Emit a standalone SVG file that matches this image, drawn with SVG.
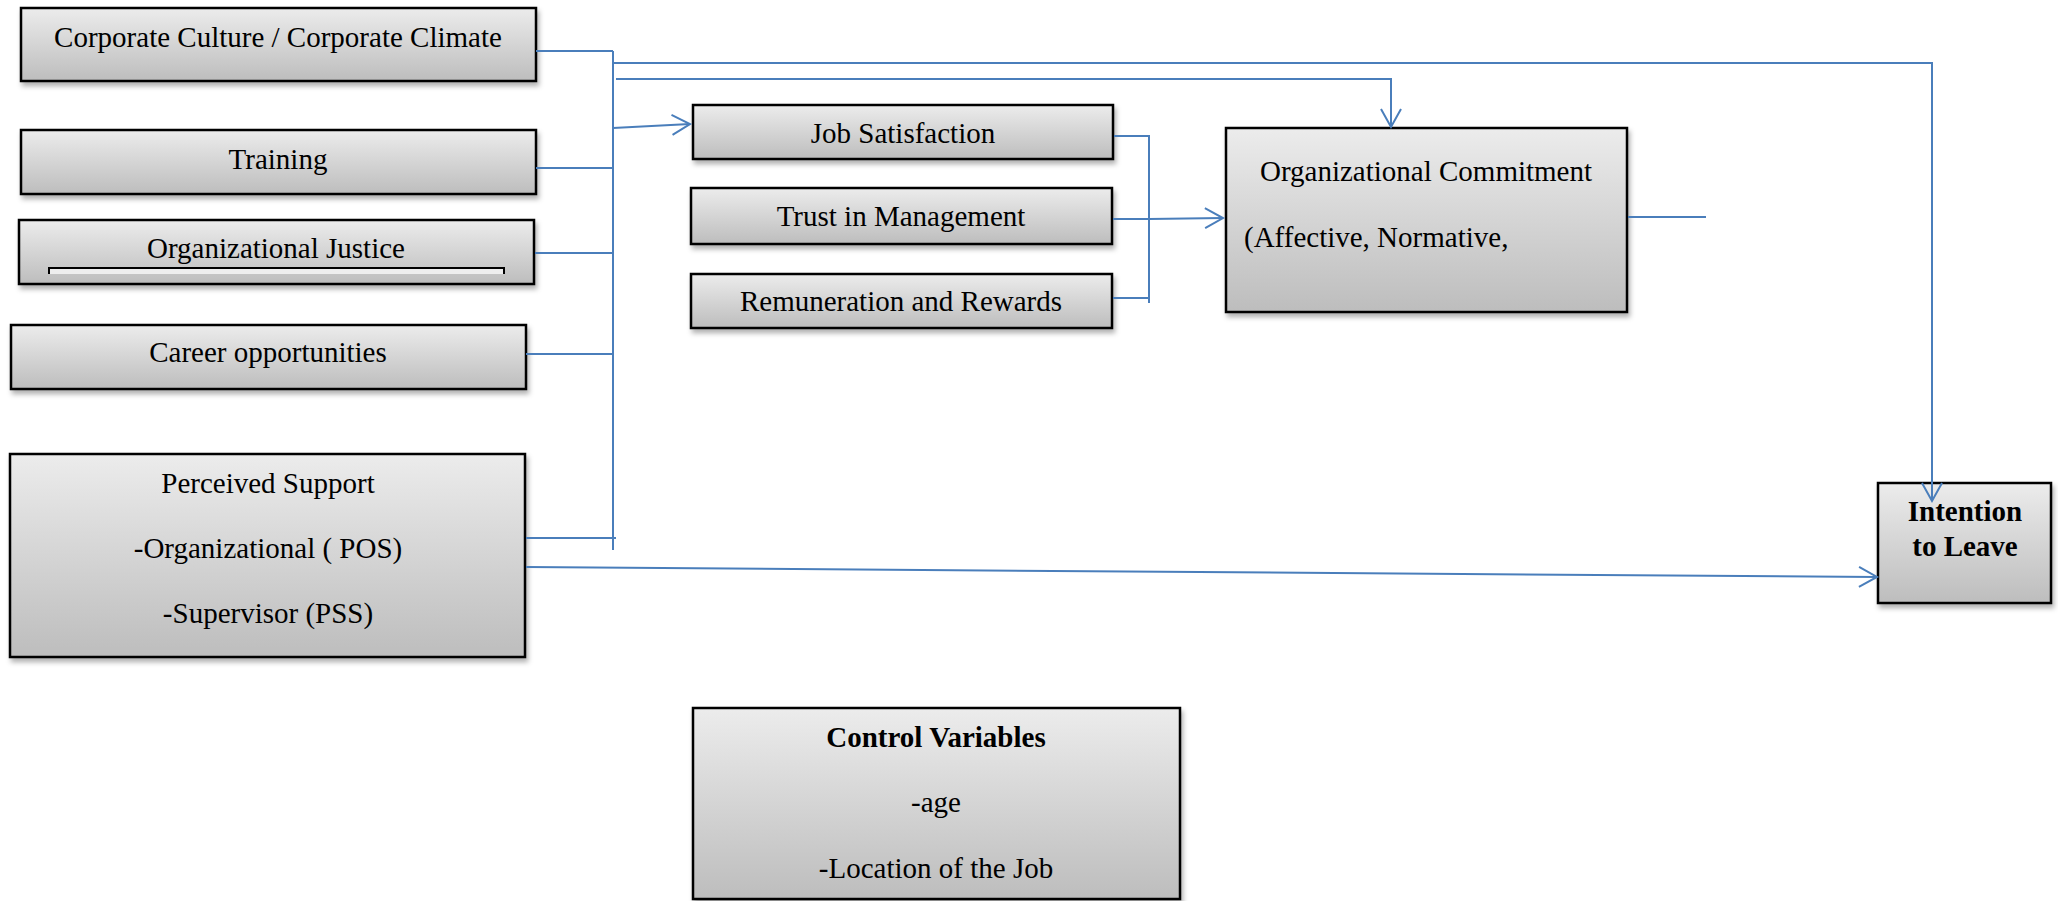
<svg xmlns="http://www.w3.org/2000/svg" width="2058" height="901" viewBox="0 0 2058 901">
<style>
.box{fill:url(#g);stroke:#000;stroke-width:2.5;filter:url(#sh)}
text{font-family:'Liberation Serif',serif;font-size:29px;fill:#000;text-anchor:middle}
.b{font-weight:bold}
.c{fill:none;stroke:#4a7ebb;stroke-width:2}
.a{marker-end:url(#arr)}
</style>
<defs>
<linearGradient id="g" x1="0" y1="0" x2="0" y2="1">
<stop offset="0" stop-color="#ececec"/>
<stop offset="1" stop-color="#bdbdbd"/>
</linearGradient>
<filter id="sh" x="-5%" y="-10%" width="110%" height="130%">
<feDropShadow dx="2" dy="4" stdDeviation="2.5" flood-color="#000" flood-opacity="0.3"/>
</filter>
<marker id="arr" markerUnits="userSpaceOnUse" markerWidth="24" markerHeight="24" viewBox="-20 -12 24 24" refX="0" refY="0" orient="auto">
<path d="M-18,-10 L0,0 L-18,10" fill="none" stroke="#4a7ebb" stroke-width="2"/>
</marker>
</defs>
<rect width="2058" height="901" fill="#fff"/>
<g id="corporate-culture">
<rect class="box" x="21" y="8" width="515" height="73"/>
<text x="278" y="47">Corporate Culture / Corporate Climate</text>
</g>
<g id="training">
<rect class="box" x="21" y="130" width="515" height="64"/>
<text x="278" y="169">Training</text>
</g>
<g id="organizational-justice">
<rect class="box" x="19" y="220" width="515" height="64"/>
<text x="276" y="258">Organizational Justice</text>
<rect x="49" y="268" width="455" height="6" fill="#eeeeee"/>
<path d="M49,274 V268 H504 V274" fill="none" stroke="#000" stroke-width="2"/>
</g>
<g id="career-opportunities">
<rect class="box" x="11" y="325" width="515" height="64"/>
<text x="268" y="362">Career opportunities</text>
</g>
<g id="perceived-support">
<rect class="box" x="10" y="454" width="515" height="203"/>
<text x="268" y="493">Perceived Support</text>
<text x="268" y="558">-Organizational ( POS)</text>
<text x="268" y="623">-Supervisor (PSS)</text>
</g>
<g id="job-satisfaction">
<rect class="box" x="693" y="105" width="420" height="54"/>
<text x="903" y="143">Job Satisfaction</text>
</g>
<g id="trust-in-management">
<rect class="box" x="691" y="188" width="421" height="56"/>
<text x="901" y="226">Trust in Management</text>
</g>
<g id="remuneration">
<rect class="box" x="691" y="274" width="421" height="54"/>
<text x="901" y="311">Remuneration and Rewards</text>
</g>
<g id="organizational-commitment">
<rect class="box" x="1226" y="128" width="401" height="184"/>
<text x="1426" y="181">Organizational Commitment</text>
<text x="1244" y="247" style="text-anchor:start">(Affective, Normative,</text>
</g>
<g id="intention-to-leave">
<rect class="box" x="1878" y="483" width="173" height="120"/>
<text class="b" x="1965" y="521">Intention</text>
<text class="b" x="1965" y="556">to Leave</text>
</g>
<g id="control-variables">
<rect class="box" x="693" y="708" width="487" height="191"/>
<text class="b" x="936" y="747">Control Variables</text>
<text x="936" y="812">-age</text>
<text x="936" y="878">-Location of the Job</text>
</g>
<g id="connectors">
<path class="c" d="M536,51 H613 M613,51 V550 M536,168 H613 M535,253 H613 M526,354 H613 M526,538 H616"/>
<path class="c a" d="M613,63 H1932 V501"/>
<path class="c a" d="M616,79 H1391 V127"/>
<path class="c a" d="M613,128 L690,124"/>
<path class="c" d="M1114,136 H1149 V303 M1113,298 H1149"/>
<path class="c a" d="M1113,219 H1149 L1223,218"/>
<path class="c" d="M1628,217 H1706"/>
<path class="c a" d="M526,567 L1877,577"/>
</g>
</svg>
